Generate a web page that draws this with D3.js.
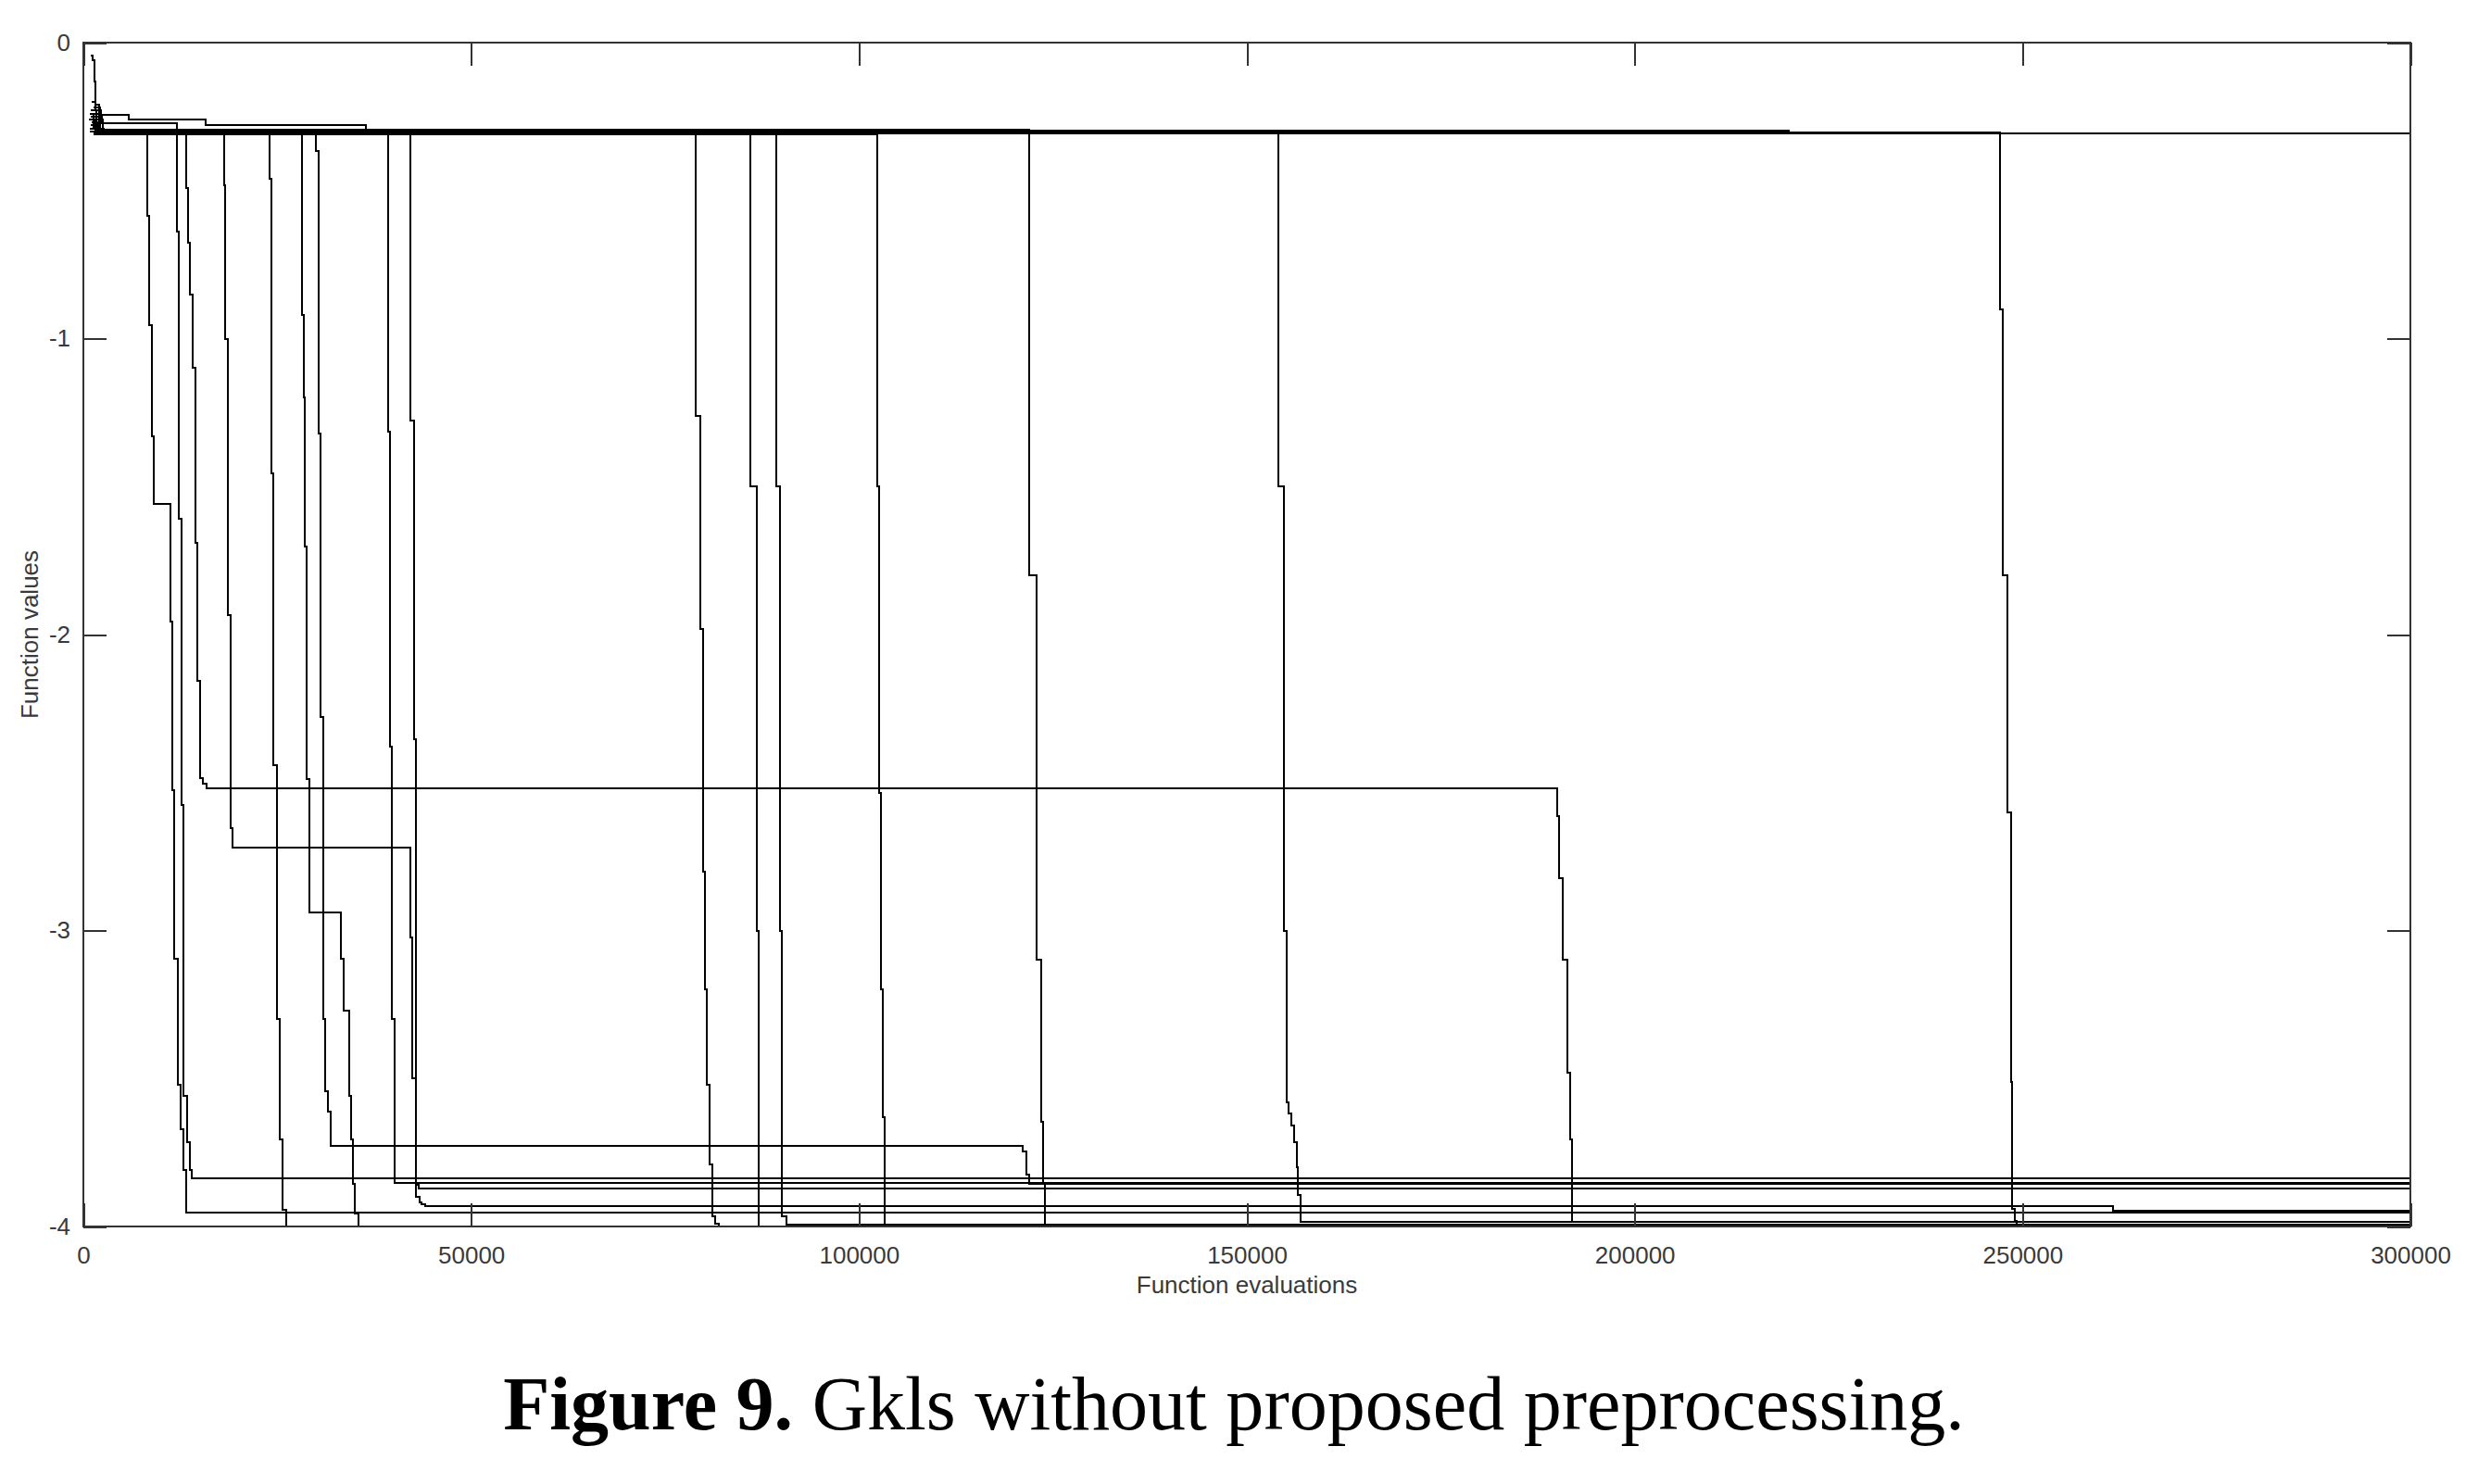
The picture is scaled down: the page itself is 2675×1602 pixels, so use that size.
<!DOCTYPE html>
<html><head><meta charset="utf-8">
<script src="https://cdn.jsdelivr.net/npm/d3@7"></script>
<style>body{margin:0;background:#fff}svg{display:block}</style>
</head><body>
<svg id="c" width="2675" height="1602"></svg>
<script>
// ---- data ----
const xTicks = [0, 50000, 100000, 150000, 200000, 250000, 300000];
const yTicks = [0, -1, -2, -3, -4];
const xTitle = "Function evaluations";
const yTitle = "Function values";
const captionBold = "Figure 9.";
const captionRest = " Gkls without proposed preprocessing.";

// each run: [function evaluations, best value found] (step changes)
const runNever = [[1000,-0.044],[1200,-0.06],[1400,-0.13],[1600,-0.21],[2000,-0.29],[2600,-0.307],[300000,-0.307]];
const run220 = [[1100,-0.2],[1500,-0.23],[2300,-0.244],[5800,-0.26],[15750,-0.28],[36400,-0.298],[220000,-0.298]];
const runA = [[800,-0.24],[1300,-0.29],[1900,-0.31],[8240,-0.585],[8440,-0.955],[8810,-1.33],[9080,-1.56],[11170,-1.956],[11430,-2.526],[11700,-3.097],[12200,-3.52],[12500,-3.67],[12860,-3.81],[13200,-3.954],[300000,-3.954]];
const runB = [[1000,-0.25],[2400,-0.273],[12060,-0.64],[12340,-1.61],[12660,-2.576],[12920,-3.56],[13340,-3.716],[13730,-3.81],[14000,-3.838],[300000,-3.838]];
const runC = [[900,-0.23],[1700,-0.305],[13200,-0.49],[13500,-0.676],[13780,-0.85],[14050,-1.1],[14450,-1.69],[14740,-2.158],[15050,-2.485],[15400,-2.505],[15900,-2.52],[190000,-2.612],[190300,-2.824],[190700,-3.1],[191350,-3.48],[191700,-3.706],[191900,-3.985],[300000,-3.985]];
const runD = [[700,-0.26],[1500,-0.31],[18100,-0.482],[18300,-1.0],[18680,-1.933],[18950,-2.654],[19200,-2.72],[42100,-3.025],[42450,-3.5],[42900,-3.86],[43200,-3.873],[300000,-3.873]];
const runE = [[1200,-0.27],[2000,-0.3],[24000,-0.461],[24280,-1.454],[24540,-2.44],[24930,-3.3],[25300,-3.706],[25700,-3.944],[26100,-4.0],[300000,-4.0]];
const runF = [[900,-0.28],[1600,-0.295],[28200,-0.92],[28400,-1.2],[28500,-1.704],[28800,-2.488],[29100,-2.94],[33200,-3.097],[33500,-3.27],[34250,-3.56],[34460,-3.706],[34800,-3.856],[35000,-3.956],[35500,-4.0],[300000,-4.0]];
const runG = [[1300,-0.22],[2200,-0.31],[29980,-0.367],[30300,-1.32],[30570,-2.277],[30900,-3.3],[31230,-3.543],[31580,-3.612],[31850,-3.727],[32200,-3.729],[121100,-3.748],[121550,-3.826],[121900,-3.857],[300000,-3.857]];
const runH = [[1000,-0.29],[1800,-0.303],[39260,-1.315],[39530,-2.379],[39800,-3.3],[40080,-3.852],[300000,-3.852]];
const runI = [[800,-0.3],[1400,-0.31],[42200,-1.276],[42600,-2.354],[42840,-3.9],[43300,-3.92],[43600,-3.925],[44100,-3.93],[261700,-3.946],[300000,-3.946]];
const runJ = [[1100,-0.27],[2100,-0.309],[78900,-1.26],[79570,-1.98],[79840,-2.80],[80100,-3.2],[80380,-3.52],[80740,-3.79],[81080,-3.966],[81420,-3.99],[81900,-4.0],[300000,-4.0]];
const runK = [[900,-0.25],[1700,-0.302],[86000,-1.5],[86770,-3.0],[87040,-4.0],[300000,-4.0]];
const runL = [[1200,-0.26],[2500,-0.298],[89300,-1.5],[89800,-3.0],[90000,-3.966],[90650,-3.995],[300000,-3.995]];
const runM = [[1000,-0.28],[1600,-0.31],[102300,-1.5],[102600,-2.535],[102850,-3.2],[103050,-3.63],[103250,-4.0],[300000,-4.0]];
const runN = [[1300,-0.24],[2200,-0.295],[121900,-1.8],[122860,-3.1],[123500,-3.646],[123700,-3.852],[124000,-4.0],[300000,-4.0]];
const runO = [[800,-0.29],[2000,-0.305],[154100,-1.5],[154760,-3.0],[155100,-3.58],[155350,-3.617],[155700,-3.659],[156050,-3.716],[156400,-3.8],[156600,-3.894],[156900,-3.985],[300000,-3.985]];
const runP = [[1100,-0.27],[1900,-0.303],[247070,-0.9],[247500,-1.8],[248000,-2.6],[248500,-3.513],[248700,-3.94],[249000,-3.98],[249200,-4.0],[300000,-4.0]];

const runs = [runNever, run220, runA, runB, runC, runD, runE, runF, runG, runH, runI, runJ, runK, runL, runM, runN, runO, runP];

// ---- drawing ----
const W = 2675, H = 1602;
const box = {l: 90, r: 2602, t: 46, b: 1324};
const x = d3.scaleLinear().domain([0, 300000]).range([box.l, box.r]);
const y = d3.scaleLinear().domain([-4, 0]).range([box.b, box.t]);

const svg = d3.select('#c');
svg.append('rect').attr('width', W).attr('height', H).attr('fill', '#fff');

const line = d3.line().x(d => x(d[0])).y(d => y(d[1])).curve(d3.curveStepAfter);
svg.append('g').selectAll('path').data(runs).join('path')
  .attr('d', line).attr('fill', 'none').attr('stroke', '#000')
  .attr('stroke-width', 2).attr('shape-rendering', 'crispEdges');

const tickLen = 25;
const font = "'Liberation Sans', Arial, sans-serif";
const fmt = d => String(d);
function style(g, showText) {
  g.select('.domain').remove();
  g.selectAll('.tick line').attr('stroke', '#333').attr('stroke-width', 2).attr('shape-rendering', 'crispEdges');
  g.selectAll('.tick text').attr('font-family', font).attr('font-size', 26).attr('fill', '#3a3a3a');
  if (!showText) g.selectAll('.tick text').remove();
}
svg.append('g').attr('transform', `translate(0,${box.b})`)
  .call(d3.axisBottom(x).tickValues(xTicks).tickSizeInner(-tickLen).tickSizeOuter(0).tickPadding(22).tickFormat(fmt))
  .call(g => style(g, true));
svg.append('g').attr('transform', `translate(0,${box.t})`)
  .call(d3.axisTop(x).tickValues(xTicks).tickSizeInner(-tickLen).tickSizeOuter(0).tickFormat(fmt))
  .call(g => style(g, false));
svg.append('g').attr('transform', `translate(${box.l},0)`)
  .call(d3.axisLeft(y).tickValues(yTicks).tickSizeInner(-tickLen).tickSizeOuter(0).tickPadding(14).tickFormat(fmt))
  .call(g => style(g, true));
svg.append('g').attr('transform', `translate(${box.r},0)`)
  .call(d3.axisRight(y).tickValues(yTicks).tickSizeInner(-tickLen).tickSizeOuter(0).tickFormat(fmt))
  .call(g => style(g, false));

svg.append('rect').attr('x', box.l).attr('y', box.t)
  .attr('width', box.r - box.l).attr('height', box.b - box.t)
  .attr('fill', 'none').attr('stroke', '#333').attr('stroke-width', 2).attr('shape-rendering', 'crispEdges');

svg.append('text').attr('x', (box.l + box.r) / 2).attr('y', 1396)
  .attr('text-anchor', 'middle').attr('font-family', font).attr('font-size', 26).attr('fill', '#3a3a3a')
  .text(xTitle);
svg.append('text').attr('transform', `translate(41,${(box.t + box.b) / 2}) rotate(-90)`)
  .attr('text-anchor', 'middle').attr('font-family', font).attr('font-size', 26).attr('fill', '#3a3a3a')
  .text(yTitle);

const cap = svg.append('text').attr('x', 1332).attr('y', 1543)
  .attr('text-anchor', 'middle').attr('font-family', "'Liberation Serif', 'DejaVu Serif', serif")
  .attr('font-size', 76).attr('fill', '#000');
cap.append('tspan').attr('font-weight', 'bold').text(captionBold);
cap.append('tspan').text(captionRest);
const targetW = 1578;
const w0 = cap.node().getComputedTextLength();
if (w0 > 0) cap.attr('font-size', 76 * targetW / w0);
</script>
</body></html>
